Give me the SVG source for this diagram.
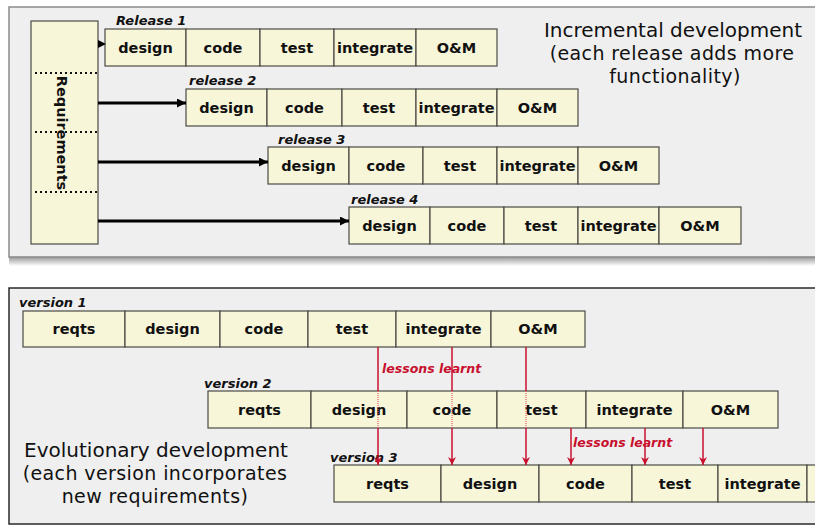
<svg xmlns="http://www.w3.org/2000/svg" width="815" height="525" viewBox="0 0 815 525">
<defs>
<linearGradient id="shadow" x1="0" y1="0" x2="0" y2="1">
<stop offset="0" stop-color="#9a9a9a"/>
<stop offset="1" stop-color="#ffffff"/>
</linearGradient>
<marker id="blk" viewBox="0 0 10 10" refX="10" refY="5" markerWidth="9" markerHeight="9" markerUnits="userSpaceOnUse" orient="auto">
<path d="M0,0 L10,5 L0,10 z" fill="#000"/>
</marker>
<marker id="red" viewBox="0 0 10 10" refX="10" refY="5" markerWidth="8" markerHeight="8" markerUnits="userSpaceOnUse" orient="auto">
<path d="M0,0 L10,5 L0,10 L3,5 z" fill="#c8102e"/>
</marker>
</defs>
<style>
.panel{fill:#efefef}
.cell{fill:#f8f6d9;stroke:#4a4a44;stroke-width:1.2}
.ct{font-family:"DejaVu Sans",sans-serif;font-weight:bold;font-size:14.5px;fill:#111;text-anchor:middle}
.lbl{font-family:"DejaVu Sans",sans-serif;font-weight:bold;font-style:italic;font-size:13px;fill:#111}
.title{font-family:"DejaVu Sans",sans-serif;font-size:20px;fill:#111;text-anchor:middle}
.sub{font-family:"DejaVu Sans",sans-serif;font-size:19px;fill:#111;text-anchor:middle;letter-spacing:0.4px}
.ll{font-family:"DejaVu Sans",sans-serif;font-weight:bold;font-style:italic;font-size:12.5px;fill:#c8102e}
.dot{stroke:#111;stroke-width:2;stroke-dasharray:2,3}
.arr{stroke:#000;stroke-width:3;fill:none}
.rl{stroke:#c8102e;stroke-width:1.5;fill:none}
.rd{stroke:#e06070;stroke-width:1.2;stroke-dasharray:1,1;fill:none}
</style>

<rect x="0" y="0" width="815" height="525" fill="#ffffff"/>

<rect x="9" y="257" width="810" height="9" fill="url(#shadow)"/>
<rect class="panel" x="9" y="7" width="810" height="250" stroke="#8a8a8a" stroke-width="1.5"/>

<rect class="panel" x="9" y="288" width="810" height="236" stroke="#2a2a2a" stroke-width="1.5"/>

<g id="requirements">
<rect class="cell" x="31" y="21" width="67" height="223"/>
<line class="dot" x1="35" y1="73" x2="99" y2="73"/>
<line class="dot" x1="35" y1="132" x2="99" y2="132"/>
<line class="dot" x1="35" y1="192" x2="99" y2="192"/>
<text class="ct" transform="translate(62,133) rotate(90)" x="0" y="5">Requirements</text>
</g>

<g id="release1">
<text class="lbl" x="116" y="25">Release 1</text>
<rect class="cell" x="105" y="29" width="81" height="37"/>
<rect class="cell" x="186" y="29" width="74" height="37"/>
<rect class="cell" x="260" y="29" width="74" height="37"/>
<rect class="cell" x="334" y="29" width="82" height="37"/>
<rect class="cell" x="416" y="29" width="81" height="37"/>
<text class="ct" x="145.5" y="53">design</text>
<text class="ct" x="223" y="53">code</text>
<text class="ct" x="297" y="53">test</text>
<text class="ct" x="375" y="53">integrate</text>
<text class="ct" x="456.5" y="53">O&amp;M</text>
</g>

<g id="release2">
<text class="lbl" x="189" y="85">release 2</text>
<rect class="cell" x="186" y="89" width="81" height="37"/>
<rect class="cell" x="267" y="89" width="75" height="37"/>
<rect class="cell" x="342" y="89" width="74" height="37"/>
<rect class="cell" x="416" y="89" width="81" height="37"/>
<rect class="cell" x="497" y="89" width="81" height="37"/>
<text class="ct" x="226.5" y="113">design</text>
<text class="ct" x="304.5" y="113">code</text>
<text class="ct" x="379" y="113">test</text>
<text class="ct" x="456.5" y="113">integrate</text>
<text class="ct" x="537.5" y="113">O&amp;M</text>
</g>

<g id="release3">
<text class="lbl" x="278" y="144">release 3</text>
<rect class="cell" x="268" y="147" width="81" height="37"/>
<rect class="cell" x="349" y="147" width="74" height="37"/>
<rect class="cell" x="423" y="147" width="74" height="37"/>
<rect class="cell" x="497" y="147" width="81" height="37"/>
<rect class="cell" x="578" y="147" width="81" height="37"/>
<text class="ct" x="308.5" y="171">design</text>
<text class="ct" x="386" y="171">code</text>
<text class="ct" x="460" y="171">test</text>
<text class="ct" x="537.5" y="171">integrate</text>
<text class="ct" x="618.5" y="171">O&amp;M</text>
</g>

<g id="release4">
<text class="lbl" x="351" y="204">release 4</text>
<rect class="cell" x="349" y="207" width="81" height="37"/>
<rect class="cell" x="430" y="207" width="74" height="37"/>
<rect class="cell" x="504" y="207" width="74" height="37"/>
<rect class="cell" x="578" y="207" width="81" height="37"/>
<rect class="cell" x="659" y="207" width="82" height="37"/>
<text class="ct" x="389.5" y="231">design</text>
<text class="ct" x="467" y="231">code</text>
<text class="ct" x="541" y="231">test</text>
<text class="ct" x="618.5" y="231">integrate</text>
<text class="ct" x="700" y="231">O&amp;M</text>
</g>

<g id="incremental-title">
<text class="title" x="673" y="37">Incremental development</text>
<text class="sub" x="672" y="60">(each release adds more</text>
<text class="sub" x="675" y="83">functionality)</text>
</g>

<g id="version1">
<text class="lbl" x="19" y="307">version 1</text>
<rect class="cell" x="23" y="311" width="102" height="36"/>
<rect class="cell" x="125" y="311" width="95" height="36"/>
<rect class="cell" x="220" y="311" width="88" height="36"/>
<rect class="cell" x="308" y="311" width="88" height="36"/>
<rect class="cell" x="396" y="311" width="95" height="36"/>
<rect class="cell" x="491" y="311" width="94" height="36"/>
<text class="ct" x="74" y="334">reqts</text>
<text class="ct" x="172.5" y="334">design</text>
<text class="ct" x="264" y="334">code</text>
<text class="ct" x="352" y="334">test</text>
<text class="ct" x="443.5" y="334">integrate</text>
<text class="ct" x="538" y="334">O&amp;M</text>
</g>

<g id="version2">
<text class="lbl" x="204" y="388">version 2</text>
<rect class="cell" x="208" y="391" width="103" height="37"/>
<rect class="cell" x="311" y="391" width="96" height="37"/>
<rect class="cell" x="407" y="391" width="90" height="37"/>
<rect class="cell" x="497" y="391" width="89" height="37"/>
<rect class="cell" x="586" y="391" width="97" height="37"/>
<rect class="cell" x="683" y="391" width="95" height="37"/>
<text class="ct" x="259.5" y="415">reqts</text>
<text class="ct" x="359" y="415">design</text>
<text class="ct" x="452" y="415">code</text>
<text class="ct" x="541.5" y="415">test</text>
<text class="ct" x="634.5" y="415">integrate</text>
<text class="ct" x="730.5" y="415">O&amp;M</text>
</g>

<g id="version3">
<text class="lbl" x="330" y="462">version 3</text>
<rect class="cell" x="334" y="465" width="107" height="37"/>
<rect class="cell" x="441" y="465" width="98" height="37"/>
<rect class="cell" x="539" y="465" width="93" height="37"/>
<rect class="cell" x="632" y="465" width="86" height="37"/>
<rect class="cell" x="718" y="465" width="89" height="37"/>
<rect class="cell" x="807" y="465" width="20" height="37"/>
<text class="ct" x="387.5" y="489">reqts</text>
<text class="ct" x="490" y="489">design</text>
<text class="ct" x="585.5" y="489">code</text>
<text class="ct" x="675" y="489">test</text>
<text class="ct" x="762.5" y="489">integrate</text>
</g>

<g id="evolutionary-title">
<text class="title" x="156" y="457">Evolutionary development</text>
<text class="sub" x="155" y="480">(each version incorporates</text>
<text class="sub" x="155" y="503">new requirements)</text>
</g>

<g id="connectors">
<line class="arr" x1="98" y1="44" x2="100" y2="44" stroke-width="2.5"/>
<path d="M98,40 L106,44 L98,48 z" fill="#000"/>
<line class="arr" x1="98" y1="103" x2="186" y2="103" marker-end="url(#blk)"/>
<line class="arr" x1="98" y1="162" x2="268" y2="162" marker-end="url(#blk)"/>
<line class="arr" x1="98" y1="221" x2="349" y2="221" marker-end="url(#blk)"/>

<line class="rl" x1="378" y1="347" x2="378" y2="391"/>
<line class="rd" x1="378" y1="391" x2="378" y2="428"/>
<line class="rl" x1="378" y1="428" x2="378" y2="465" marker-end="url(#red)"/>
<line class="rl" x1="452" y1="347" x2="452" y2="391"/>
<line class="rd" x1="452" y1="391" x2="452" y2="428"/>
<line class="rl" x1="452" y1="428" x2="452" y2="465" marker-end="url(#red)"/>
<line class="rl" x1="526" y1="347" x2="526" y2="391"/>
<line class="rd" x1="526" y1="391" x2="526" y2="428"/>
<line class="rl" x1="526" y1="428" x2="526" y2="465" marker-end="url(#red)"/>

<line class="rl" x1="571" y1="428" x2="571" y2="465" marker-end="url(#red)"/>
<line class="rl" x1="645" y1="428" x2="645" y2="465" marker-end="url(#red)"/>
<line class="rl" x1="703" y1="428" x2="703" y2="465" marker-end="url(#red)"/>

<text class="ll" x="382" y="373">lessons learnt</text>
<text class="ll" x="573" y="447">lessons learnt</text>
</g>
</svg>
